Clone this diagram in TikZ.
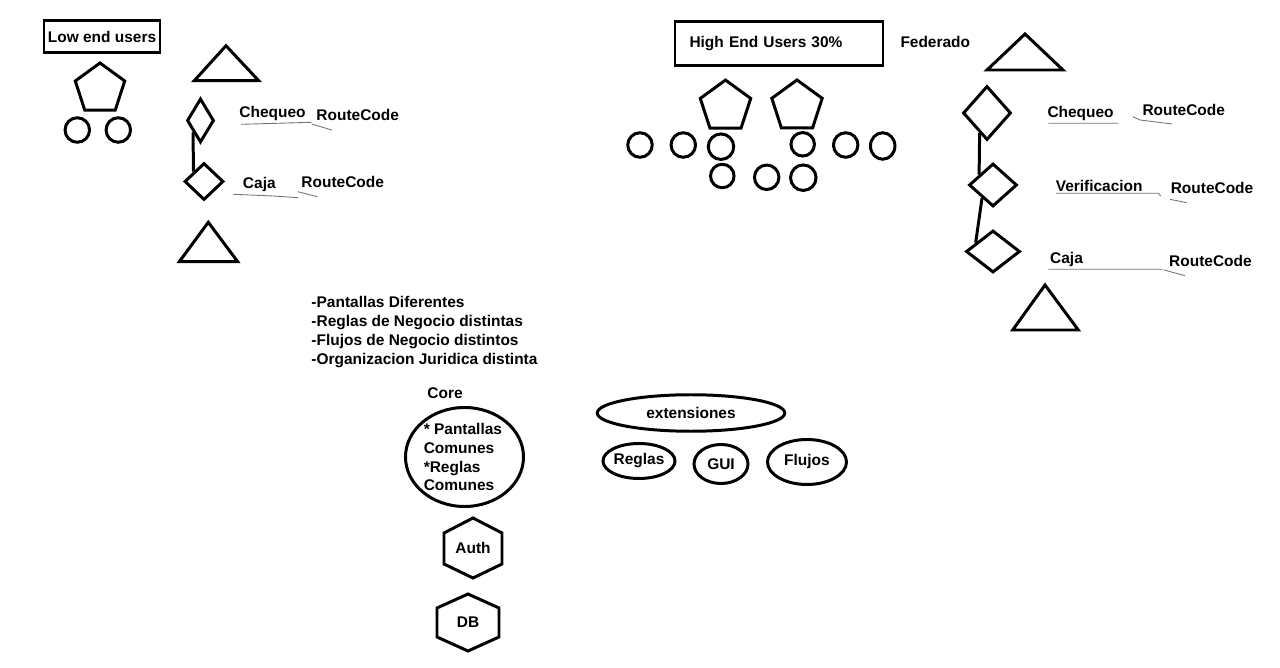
\documentclass[tikz,border=0pt]{standalone}
\usepackage{fontspec}
\setmainfont{Liberation Sans}
\usetikzlibrary{shapes.geometric}

\begin{document}
\begin{tikzpicture}[x=0.2mm, y=-0.2mm, line width=1.7pt,
  every node/.style={font=\fontsize{8.8}{10.8}\selectfont\bfseries},
  shp/.style={draw, line width=1.7pt, inner sep=0pt},
  box/.style={shp, rectangle},
  penta/.style={shp, regular polygon, regular polygon sides=5, minimum size=10.6mm},
  ring/.style={shp, ellipse, minimum width=#1, minimum height=#1},
  ring/.default=4.9mm,
  rhomb/.style={shp, diamond},
  oval/.style={shp, ellipse},
  txt/.style={anchor=base west, inner sep=0pt},
  uline/.style={line width=0.5pt, black!55}]
  \useasboundingbox (0,0) rectangle (1280,668);

  % low end users
  \node[box, minimum width=23.2mm, minimum height=6.3mm] (low) at (102,36.7) {Low end users};
  \node[penta, minimum size=10.4mm] (lp) at (100,89) {};
  \node[ring] (lc1) at (77.3,130) {};
  \node[ring] (lc2) at (118.3,130) {};
  \draw (194.3,80.7) -- (226,45.7) -- (258.7,80.7) -- cycle;
  \node[rhomb, minimum width=5.4mm, minimum height=8.8mm] (ld1) at (200.5,120.5) {};
  \node[rhomb, minimum width=7.8mm, minimum height=7.4mm] (ld2) at (204,181.5) {};
  \draw (ld1.south west) -- (ld2.north west);
  \draw (179.3,261.7) -- (208.3,222.3) -- (237.7,261.7) -- cycle;
  \node[txt] (lchq) at (238,117.5) {Chequeo};
  \node[txt] (lrc1) at (315,121) {RouteCode};
  \node[txt] (lcaja) at (241.5,188.5) {Caja};
  \node[txt] (lrc2) at (300,188) {RouteCode};
  \draw[uline] (241,124.3) -- (276.7,123.3) -- (311.7,122.3) (311.7,124) -- (331.7,130);
  \draw[uline] (233.3,194.3) -- (273.3,196) -- (298.3,197.7) (297.7,191.7) -- (317.3,196.7);

  % high end users
  \node[box, anchor=west, text width=35.8mm, align=left, inner xsep=2.9mm, minimum height=8.7mm] (high) at (673.5,43.3) {High End Users 30\%};
  \node[txt] (fed) at (899,48) {Federado};
  \node[penta] (rp1) at (725.5,106.6) {};
  \node[penta] (rp2) at (797,106.5) {};
  \node[ring] (rc1) at (640,145) {};
  \node[ring] (rc2) at (683.3,145) {};
  \node[ring=5.1mm] (rc3) at (721,146.7) {};
  \node[ring=4.7mm] (rc4) at (802.7,144.3) {};
  \node[ring] (rc5) at (845.7,145) {};
  \node[ring, minimum height=5.3mm] (rc6) at (882.7,146) {};
  \node[ring=4.7mm] (rc7) at (722.3,176) {};
  \node[ring] (rc8) at (766.7,177.3) {};
  \node[ring=5.1mm] (rc9) at (803.3,177.7) {};

  % federado flow
  \draw (987,70) -- (1025,34) -- (1063,70) -- cycle;
  \node[rhomb, minimum width=9.6mm, minimum height=10.8mm] (rd1) at (987,113) {};
  \node[rhomb, minimum width=9.6mm, minimum height=8.6mm] (rd2) at (993,185) {};
  \node[rhomb, minimum width=10.8mm, minimum height=8.4mm] (rd3) at (993,251.5) {};
  \draw (rd1.-110) -- (rd2.143);
  \draw (rd2.-130) -- (rd3.153);
  \draw (1012.7,330) -- (1045,285) -- (1078.3,330) -- cycle;
  \node[txt] (rchq) at (1046,117.2) {Chequeo};
  \node[txt] (rrc1) at (1141,115.5) {RouteCode};
  \node[txt] (rver) at (1054.3,191.5) {Verificacion};
  \node[txt] (rrc2) at (1169.3,193.8) {RouteCode};
  \node[txt] (rcaja) at (1048.7,263.8) {Caja};
  \node[txt] (rrc3) at (1167.7,266.2) {RouteCode};
  \draw[uline] (1048.3,123.3) -- (1118.3,123.3) (1132.7,116.7) -- (1140,120) -- (1172,124);
  \draw[uline] (1056,193.3) -- (1158.3,193.3) -- (1160.7,196) (1170,199.3) -- (1186.7,202.7);
  \draw[uline] (1048.3,269.3) -- (1162.7,269.3) (1164,270) -- (1185,275.7);

  % differences
  \node[anchor=west, align=left, inner sep=0pt] (diffs) at (310,332) {-Pantallas Diferentes\\-Reglas de Negocio distintas\\-Flujos de Negocio distintos\\-Organizacion Juridica distinta};

  % core
  \node[txt] (core) at (426,398.8) {Core};
  \node[oval, minimum width=23.6mm, minimum height=19.8mm] (coreoval) at (464.5,457) {};
  \node[anchor=west, align=left, inner sep=0pt] (corelist) at (422.3,457) {* Pantallas\\Comunes\\*Reglas\\Comunes};
  \node (auth) at (473,548) {Auth};
  \draw (auth.center) +(0,-30) -- +(29,-15) -- +(29,16) -- +(0,30) -- +(-29,16) -- +(-29,-15) -- cycle;
  \node (db) at (468,622) {DB};
  \draw (db.center) +(0,-28) -- +(31,-14) -- +(31,15) -- +(0,29) -- +(-31,15) -- +(-31,-14) -- cycle;

  % extensions
  \node[oval, minimum width=37.5mm, minimum height=7.3mm] (ext) at (691,413) {extensiones};
  \node[oval, minimum width=14.4mm, minimum height=7mm] (reglas) at (639,461) {Reglas};
  \node[oval, minimum width=10.8mm, minimum height=7.8mm] (gui) at (721,464) {GUI};
  \node[oval, minimum width=15.8mm, minimum height=9mm] (flujos) at (807,462) {Flujos};
\end{tikzpicture}
\end{document}
